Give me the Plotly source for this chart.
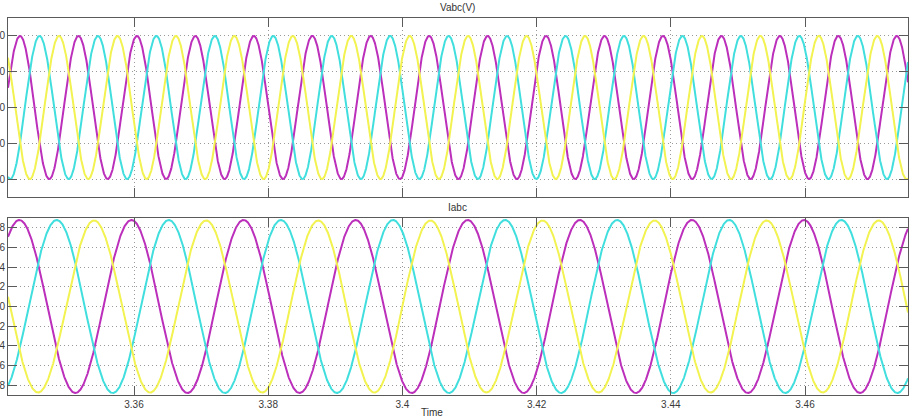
import numpy as np
import plotly.graph_objects as go
from plotly.subplots import make_subplots

# ---- data ----
time_window = [3.34122, 3.47535]
x_tick_vals = [3.36, 3.38, 3.40, 3.42, 3.44, 3.46]
x_tick_text = ["3.36", "3.38", "3.4", "3.42", "3.44", "3.46"]

phase_colors = ["#bb2fbb", "#41dede", "#f2f250"]

# Vabc(V): three-phase sinusoids (amplitude, frequency, time of first peak)
v_amplitude = [400, 400, 400]
v_frequency_hz = 114.8
v_first_peak = [3.34301, 3.34591, 3.34882]
v_tick_vals = [-400, -200, 0, 200, 400]
v_range = [-500, 500]

# Iabc: three-phase sinusoids
i_amplitude = [8.8, 8.8, 8.75]
i_frequency_hz = 59.86
i_first_peak = [3.34291, 3.34848, 3.35405]
i_tick_vals = [-8, -6, -4, -2, 0, 2, 4, 6, 8]
i_range = [-9, 9]

n_samples = 4000

t = np.linspace(time_window[0], time_window[1], n_samples)

fig = make_subplots(rows=2, cols=1, shared_xaxes=False, vertical_spacing=0.0557)

for k in range(3):
    v = v_amplitude[k] * np.cos(2 * np.pi * v_frequency_hz * (t - v_first_peak[k]))
    fig.add_trace(go.Scatter(x=t, y=v, mode="lines",
                             line=dict(color=phase_colors[k], width=2),
                             showlegend=False, hoverinfo="skip"), row=1, col=1)
for k in range(3):
    i = i_amplitude[k] * np.cos(2 * np.pi * i_frequency_hz * (t - i_first_peak[k]))
    fig.add_trace(go.Scatter(x=t, y=i, mode="lines",
                             line=dict(color=phase_colors[k], width=2),
                             showlegend=False, hoverinfo="skip"), row=2, col=1)

axis_common = dict(showline=True, linecolor="#5a5a5a", linewidth=1, mirror="ticks",
                   ticks="inside", ticklen=9, tickcolor="#5a5a5a", tickwidth=1,
                   showgrid=True, gridcolor="#9a9a9a", griddash="1px,3px", gridwidth=1,
                   zeroline=False, automargin=False,
                   tickfont=dict(family="Liberation Sans, Arial", size=10, color="#3a3a3a"))

top_dom = [(395 - 197) / 377, 1.0]
bot_dom = [0.0, (395 - 218) / 377]

fig.update_layout(
    width=914, height=416,
    margin=dict(l=8, r=6, t=18, b=21),
    paper_bgcolor="white", plot_bgcolor="white",
    xaxis=dict(range=time_window, tickvals=x_tick_vals, showticklabels=False,
               anchor="y", domain=[0, 1], **axis_common),
    yaxis=dict(range=v_range, tickvals=v_tick_vals, domain=top_dom, anchor="x",
               **axis_common),
    xaxis2=dict(range=time_window, tickvals=x_tick_vals, ticktext=x_tick_text,
                anchor="y2", domain=[0, 1], **axis_common),
    yaxis2=dict(range=i_range, tickvals=i_tick_vals, domain=bot_dom, anchor="x2",
                **axis_common),
    showlegend=False,
)

title_font = dict(family="Liberation Sans, Arial", size=10, color="#333333")
fig.add_annotation(text="Vabc(V)", xref="paper", yref="paper",
                   x=(457 - 8) / 900, y=1 + (18 - 8) / 377, showarrow=False,
                   xanchor="center", yanchor="middle", font=title_font)
fig.add_annotation(text="Iabc", xref="paper", yref="paper",
                   x=(457 - 8) / 900, y=(395 - 207) / 377, showarrow=False,
                   xanchor="center", yanchor="middle", font=title_font)
fig.add_annotation(text="Time", xref="paper", yref="paper",
                   x=(432 - 8) / 900, y=(395 - 412) / 377, showarrow=False,
                   xanchor="center", yanchor="middle", font=title_font)

fig.write_html("out.html")
